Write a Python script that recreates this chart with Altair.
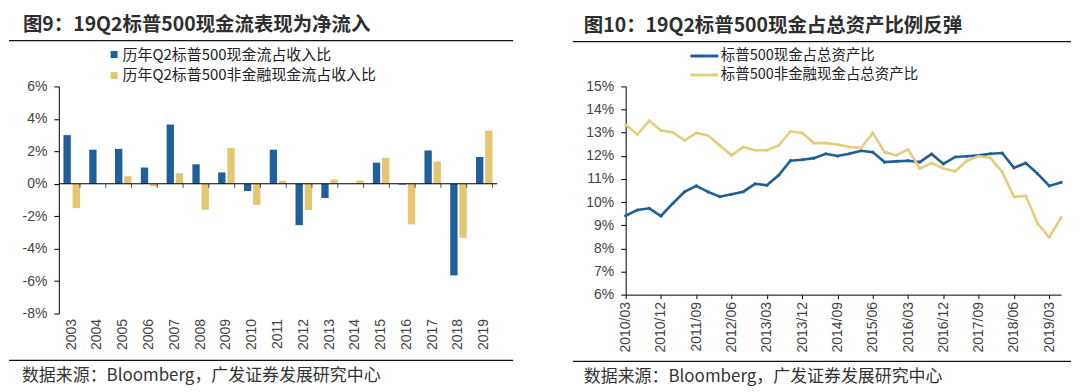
import altair as alt
import pandas as pd

CJK = "Noto Sans CJK SC"
LAT = "Liberation Sans"
BLUE = "#1f5f9b"
GOLD = "#e4c670"
LBLUE = "#1e5f96"
LGOLD = "#e6cd7e"

# ---------------- left panel data ----------------
years = ["2003", "2004", "2005", "2006", "2007", "2008", "2009", "2010", "2011",
         "2012", "2013", "2014", "2015", "2016", "2017", "2018", "2019"]
cf_all = [3.0, 2.1, 2.15, 1.0, 3.65, 1.2, 0.7, -0.45, 2.1, -2.55, -0.88, 0.0,
          1.3, -0.05, 2.05, -5.65, 1.65]
cf_nonfin = [-1.5, 0.0, 0.47, -0.15, 0.65, -1.6, 2.2, -1.3, 0.18, -1.62, 0.27,
             0.2, 1.6, -2.5, 1.37, -3.33, 3.27]
bar_series = ["历年Q2标普500现金流占收入比", "历年Q2标普500非金融现金流占收入比"]
left_ticks = [-8, -6, -4, -2, 0, 2, 4, 6]

# ---------------- right panel data ----------------
quarters = ["2010/03", "2010/06", "2010/09", "2010/12", "2011/03", "2011/06", "2011/09", "2011/12",
            "2012/03", "2012/06", "2012/09", "2012/12", "2013/03", "2013/06", "2013/09", "2013/12",
            "2014/03", "2014/06", "2014/09", "2014/12", "2015/03", "2015/06", "2015/09", "2015/12",
            "2016/03", "2016/06", "2016/09", "2016/12", "2017/03", "2017/06", "2017/09", "2017/12",
            "2018/03", "2018/06", "2018/09", "2018/12", "2019/03", "2019/06"]
cash_all = [9.41, 9.66, 9.73, 9.40, 9.94, 10.44, 10.70, 10.44, 10.23, 10.34, 10.45, 10.79,
            10.73, 11.16, 11.79, 11.83, 11.90, 12.09, 11.99, 12.09, 12.22, 12.16, 11.73, 11.76,
            11.79, 11.73, 12.08, 11.65, 11.95, 11.98, 12.02, 12.09, 12.12, 11.48, 11.69, 11.23,
            10.70, 10.85]
cash_nonfin = [13.34, 12.92, 13.51, 13.09, 13.02, 12.66, 12.99, 12.88, 12.45, 12.02, 12.38, 12.24,
               12.24, 12.45, 13.05, 12.99, 12.55, 12.55, 12.49, 12.38, 12.34, 12.99, 12.16, 12.02,
               12.28, 11.45, 11.69, 11.45, 11.33, 11.78, 11.99, 11.91, 11.30, 10.23, 10.27, 9.08,
               8.48, 9.33]
line_series = ["标普500现金占总资产比", "标普500非金融现金占总资产比"]
right_ticks = [6, 7, 8, 9, 10, 11, 12, 13, 14, 15]
right_xlabels = quarters[::3]

title_left = "图9：19Q2标普500现金流表现为净流入"
title_right = "图10：19Q2标普500现金占总资产比例反弹"
source_text = "数据来源：Bloomberg，广发证券发展研究中心"


def text_layer(txt, x, y, size, weight, color):
    return alt.Chart(pd.DataFrame({"t": [txt]})).mark_text(
        align="left", baseline="middle", font=CJK, fontSize=size,
        fontWeight=weight, color=color
    ).encode(x=alt.value(x), y=alt.value(y), text="t:N")


def hrule(x1, x2, y):
    return alt.Chart(pd.DataFrame({"k": [0]})).mark_rule(
        color="#111111", strokeWidth=1.2
    ).encode(x=alt.value(x1), x2=alt.value(x2), y=alt.value(y))


# ---------------- left chart ----------------
bar_df = pd.DataFrame({
    "year": years * 2,
    "series": [bar_series[0]] * len(years) + [bar_series[1]] * len(years),
    "value": cf_all + cf_nonfin,
})

xaxis_left = alt.Axis(labelAngle=-90, domain=False, ticks=False, labelPadding=5,
                      labelFont=LAT, labelFontSize=14, labelColor="#444444", grid=False,
                      labelOverlap=False)
yaxis_left = alt.Axis(values=left_ticks, labelExpr="datum.value + '%'", domainColor="black",
                      tickColor="black", tickSize=5, labelPadding=7, labelFont=LAT,
                      labelFontSize=14, labelColor="#444444", grid=False, labelOverlap=False,
                      labelSeparation=0)

xscale_left = alt.Scale(domain=years, paddingInner=0.36, paddingOuter=0.18)
yscale_left = alt.Scale(domain=[-8, 6], nice=False, zero=False)

bars = alt.Chart(bar_df).mark_bar().encode(
    x=alt.X("year:N", scale=xscale_left, axis=xaxis_left, title=None),
    xOffset=alt.XOffset("series:N", sort=bar_series, scale=alt.Scale(domain=bar_series, paddingInner=0.2)),
    y=alt.Y("value:Q", scale=yscale_left, axis=yaxis_left, title=None),
    color=alt.Color("series:N", scale=alt.Scale(domain=bar_series, range=[BLUE, GOLD]),
                    legend=alt.Legend(orient="none", legendX=48, legendY=-39.5, title=None,
                                      symbolType="square", symbolSize=49, symbolStrokeWidth=0,
                                      labelFont=CJK, labelFontSize=15, labelColor="#222222",
                                      labelLimit=600, labelOffset=1, rowPadding=5,
                                      clipHeight=15, padding=0)),
)

zero_line = alt.Chart(pd.DataFrame({"value": [0]})).mark_rule(color="black", strokeWidth=1).encode(
    y=alt.Y("value:Q", scale=yscale_left, axis=yaxis_left, title=None)
)

zero_ticks = alt.Chart(pd.DataFrame({"year": years, "value": [0] * len(years)})).mark_tick(
    orient="vertical", size=4, thickness=1, color="black", yOffset=2
).encode(
    x=alt.X("year:N", scale=xscale_left, bandPosition=1, axis=xaxis_left, title=None),
    y=alt.Y("value:Q", scale=yscale_left, axis=yaxis_left, title=None),
)

left = alt.layer(
    bars, zero_line, zero_ticks,
    text_layer(title_left, -36, -62, 19.5, "bold", "#2e2e2e"),
    hrule(-50, 456, -46),
    hrule(-50, 456, 275),
    text_layer(source_text, -37, 291, 17, "normal", "#333333"),
).properties(width=440, height=228)

# ---------------- right chart ----------------
line_df = pd.DataFrame({
    "q": quarters * 2,
    "series": [line_series[0]] * len(quarters) + [line_series[1]] * len(quarters),
    "value": cash_all + cash_nonfin,
})

xaxis_right = alt.Axis(values=right_xlabels, labelAngle=-90, domainColor="black",
                       tickColor="black", tickSize=4, labelPadding=3, labelFont=LAT,
                       labelFontSize=14, labelColor="#444444", grid=False, labelOverlap=False)
yaxis_right = alt.Axis(values=right_ticks, labelExpr="datum.value + '%'", domainColor="black",
                       tickColor="black", tickSize=5, labelPadding=7, labelFont=LAT,
                       labelFontSize=14, labelColor="#444444", grid=False, labelOverlap=False,
                       labelSeparation=0)

lines = alt.Chart(line_df).mark_line(
    strokeWidth=2.6, point=alt.OverlayMarkDef(filled=True, size=10)
).encode(
    x=alt.X("q:O", sort=quarters, scale=alt.Scale(type="point", padding=0),
            axis=xaxis_right, title=None),
    y=alt.Y("value:Q", scale=alt.Scale(domain=[6, 15], nice=False, zero=False),
            axis=yaxis_right, title=None),
    color=alt.Color("series:N", scale=alt.Scale(domain=line_series, range=[LBLUE, LGOLD]),
                    legend=alt.Legend(orient="none", legendX=63.5, legendY=-38, title=None,
                                      symbolType="stroke", symbolSize=784, symbolStrokeWidth=3,
                                      labelFont=CJK, labelFontSize=14.5, labelColor="#222222",
                                      labelLimit=600, labelOffset=1, rowPadding=3,
                                      clipHeight=15, padding=0)),
)

right = alt.layer(
    lines,
    text_layer(title_right, -42, -61, 19.5, "bold", "#2e2e2e"),
    hrule(-53, 447, -45),
    hrule(-53, 447, 276),
    text_layer(source_text, -42, 292, 17, "normal", "#333333"),
).properties(width=437, height=209)

chart = alt.hconcat(left, right, spacing=58).resolve_scale(
    color="independent"
).resolve_legend(color="independent").properties(
    padding={"left": 0, "top": 6, "right": 0, "bottom": 0}
).configure_view(stroke=None)

chart.save("out.html", embed_options={"renderer": "svg", "actions": False})
